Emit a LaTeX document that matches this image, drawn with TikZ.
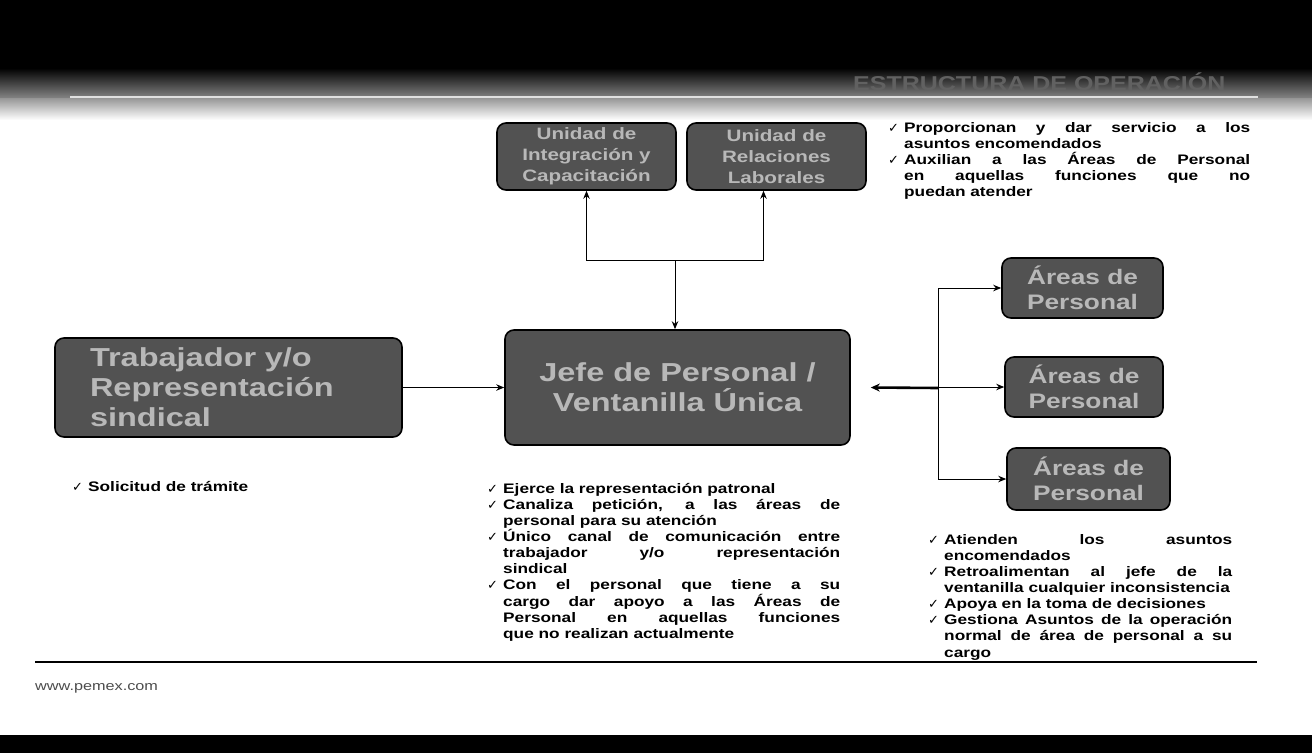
\documentclass[tikz,border=0pt]{standalone}
\usepackage{fontspec}
\setmainfont{Liberation Sans}[FakeStretch=1.25]
\newfontfamily\symfont{DejaVu Sans}
\usetikzlibrary{arrows.meta,calc}

% check-mark bullet with hanging indent
\newcommand{\tick}{\makebox[16pt][l]{\symfont\mdseries\fontsize{13}{13}\selectfont ✓}}
\newcommand{\entry}{\par\hangindent=16pt\hangafter=1\noindent\tick}

\begin{document}
\begin{tikzpicture}[x=1pt,y=-1pt,
  box/.style={draw=black, line width=1.6pt, rounded corners=9pt, fill=black!68,
              text=black!28, align=center, inner sep=0pt},
  topbox/.style={box, minimum width=179pt, minimum height=67pt,
              font=\bfseries\fontsize{16.5}{21}\selectfont},
  sidebox/.style={box, minimum height=60pt,
              font=\bfseries\fontsize{21}{25}\selectfont},
  link/.style={line width=1pt, -{Stealth[length=8pt,width=6.5pt]}},
  notefont/.style={inner sep=0pt, font=\bfseries\fontsize{13.8}{16.1}\selectfont},
  notes/.style={notefont, anchor=north west, align=justify,
              execute at begin node={\hyphenpenalty=10000\exhyphenpenalty=10000\tolerance=9999\hbadness=10000}},
]
\useasboundingbox (0,0) rectangle (1312,753);
\fill[white] (0,0) rectangle (1312,753);

% header band
\fill[black] (0,0) rectangle (1312,68);
\shade[top color=black, bottom color=black!50] (0,68) rectangle (1312,97);
\draw[black!12, line width=1.2pt] (70,97) -- (1258,97);
\shade[top color=black!40, bottom color=white] (0,98.6) rectangle (1312,120);
\node[anchor=west, inner sep=0pt, text=black!62,
      font=\bfseries\fontsize{20}{20}\selectfont] (title) at (853,82) {ESTRUCTURA DE OPERACIÓN};

% units
\node[topbox] (uic) at (586.5,156.5) {Unidad de\\Integración y\\Capacitación};
\node[topbox] (url) at (776.5,156.5) {Unidad de\\Relaciones\\Laborales};

% main boxes
\node[box, minimum width=347pt, minimum height=99pt, text width=277pt, align=left,
      font=\bfseries\fontsize{26}{30}\selectfont] (trab) at (228.5,387.5)
      {Trabajador y/o\\Representación\\sindical};
\node[box, minimum width=345pt, minimum height=115pt,
      font=\bfseries\fontsize{26}{30}\selectfont] (jefe) at (677.5,387.5)
      {Jefe de Personal /\\Ventanilla Única};

% personnel areas
\node[sidebox, minimum width=161pt] (ap1) at (1082.5,288) {Áreas de\\Personal};
\node[sidebox, minimum width=158pt] (ap2) at (1084,387) {Áreas de\\Personal};
\node[sidebox, minimum width=163pt, minimum height=62pt] (ap3) at (1088.5,479) {Áreas de\\Personal};

% connectors
\coordinate (hub) at (675,260);
\draw[link] (hub) -- (hub |- jefe.north);
\draw[link] (hub) -| (uic.south);
\draw[link] (hub) -| ([xshift=-13pt]url.south);

\draw[link] (trab.east) -- (jefe.west);

\coordinate (fork) at (938,388);
\draw[line width=2.6pt, -{Stealth[length=9pt,width=8pt]}] (fork) -- ([xshift=20pt]jefe.east);
\draw[line width=1pt] (fork |- ap1.west) -- (fork |- ap3.west);
\draw[link] (fork |- ap1.west) -- (ap1.west);
\draw[link] (fork |- ap2.west) -- (ap2.west);
\draw[link] (fork |- ap3.west) -- (ap3.west);

% notes
\node[notes, text width=362pt] (nunits) at (888,116) {%
  \entry Proporcionan y dar servicio a los\linebreak asuntos encomendados
  \entry Auxilian a las Áreas de Personal\linebreak en aquellas funciones que no\linebreak puedan atender\par};

\node[notefont, anchor=base west] (ntrab) at (72,491) {\tick Solicitud de trámite};

\node[notes, text width=353pt] (njefe) at (487,477) {%
  \entry Ejerce la representación patronal
  \entry Canaliza petición, a las áreas de\linebreak personal para su atención
  \entry Único canal de comunicación entre\linebreak trabajador y/o representación\linebreak sindical
  \entry Con el personal que tiene a su\linebreak cargo dar apoyo a las Áreas de\linebreak Personal en aquellas funciones\linebreak que no realizan actualmente\par};

\node[notes, text width=304pt] (nareas) at (928,528) {%
  \entry Atienden los asuntos\linebreak encomendados
  \entry Retroalimentan al jefe de la\linebreak ventanilla cualquier inconsistencia
  \entry Apoya en la toma de decisiones
  \entry Gestiona Asuntos de la operación\linebreak normal de área de personal a su\linebreak cargo\par};

% footer
\draw[line width=1.3pt] (35,662) -- (1257,662);
\node[anchor=west, inner sep=0pt, text=black!70, font=\fontsize{13}{13}\selectfont]
  (web) at (35,688) {www.pemex.com};
\fill[black] (0,735) rectangle (1312,753);
\end{tikzpicture}
\end{document}
